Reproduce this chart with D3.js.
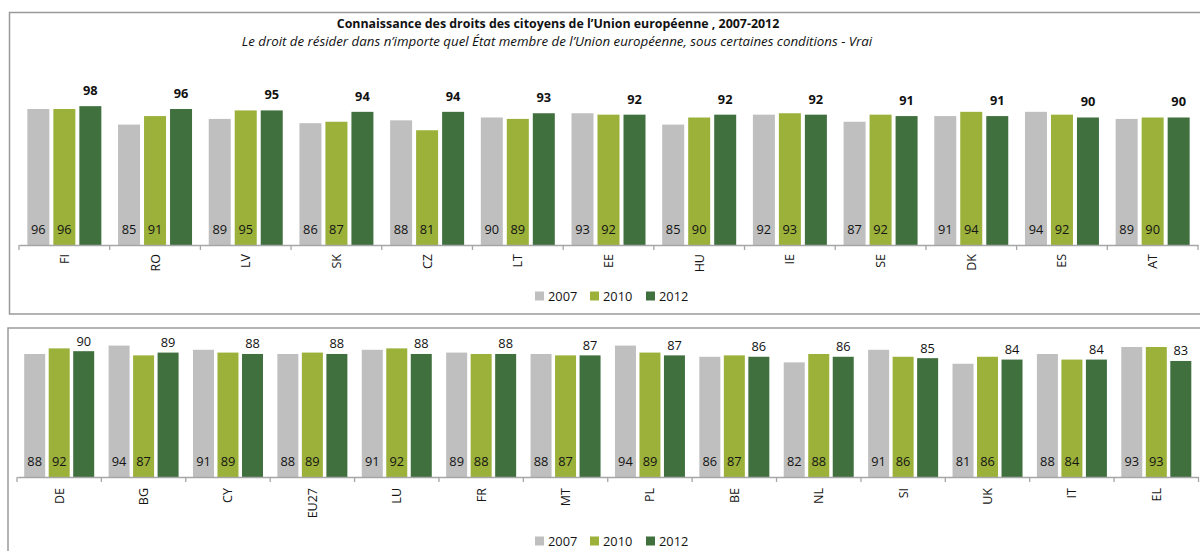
<!DOCTYPE html>
<html><head><meta charset="utf-8">
<script src="https://cdn.jsdelivr.net/npm/d3@7"></script>
<style>
body{margin:0;background:#fff;}
svg{display:block;font-family:"Open Sans",sans-serif;}
</style></head>
<body><svg id="c" width="1200" height="551"></svg>
<script>
const years = ["2007","2010","2012"];
const topCats = ["FI","RO","LV","SK","CZ","LT","EE","HU","IE","SE","DK","ES","AT"];
const top2007 = [96,85,89,86,88,90,93,85,92,87,91,94,89];
const top2010 = [96,91,95,87,81,89,92,90,93,92,94,92,90];
const top2012 = [98,96,95,94,94,93,92,92,92,91,91,90,90];
const botCats = ["DE","BG","CY","EU27","LU","FR","MT","PL","BE","NL","SI","UK","IT","EL"];
const bot2007 = [88,94,91,88,91,89,88,94,86,82,91,81,88,93];
const bot2010 = [92,87,89,89,92,88,87,89,87,88,86,86,84,93];
const bot2012 = [90,89,88,88,88,88,87,87,86,86,85,84,84,83];
const title = "Connaissance des droits des citoyens de l\u2019Union europ\u00e9enne , 2007-2012";
const subtitle = "Le droit de r\u00e9sider dans n\u2019importe quel \u00c9tat membre de l\u2019Union europ\u00e9enne, sous certaines conditions - Vrai";

const colors = {"2007":"#bfbfbf","2010":"#9bb13a","2012":"#41703f"};
const svg = d3.select("#c");

// panel borders
svg.append("rect").attr("x",9.5).attr("y",12.5).attr("width",1200).attr("height",301.5)
  .attr("fill","none").attr("stroke","#9a9a9a").attr("stroke-width",1.5);
svg.append("rect").attr("x",8).attr("y",328).attr("width",1200).attr("height",240)
  .attr("fill","none").attr("stroke","#9a9a9a").attr("stroke-width",1.5);

svg.append("text").attr("x",558).attr("y",28).attr("text-anchor","middle")
  .attr("font-weight","bold").attr("font-size",12.4).attr("fill","#111").text(title);
svg.append("text").attr("x",557).attr("y",45.5).attr("text-anchor","middle")
  .attr("font-style","italic").attr("font-size",13.3).attr("fill","#111").text(subtitle);

function panel(cfg){
  const data = cfg.cats.map((c,i)=>({cat:c, vals:{"2007":cfg.v[0][i],"2010":cfg.v[1][i],"2012":cfg.v[2][i]}}));
  const x0 = d3.scaleBand().domain(cfg.cats).range([cfg.x0,cfg.x1]);
  const bw = x0.bandwidth();
  const x1 = d3.scaleBand().domain(years).range([(bw-cfg.gw)/2,(bw+cfg.gw)/2]).paddingInner(cfg.pi);
  const y = d3.scaleLinear().domain([0,100]).range([cfg.base, cfg.base-cfg.h100]);
  const g = svg.append("g");
  const grp = g.selectAll("g.cat").data(data).join("g").attr("transform",d=>`translate(${x0(d.cat)},0)`);
  grp.selectAll("rect").data(d=>years.map(yr=>({yr,v:d.vals[yr]}))).join("rect")
    .attr("x",d=>x1(d.yr)).attr("width",x1.bandwidth())
    .attr("y",d=>y(d.v)).attr("height",d=>y(0)-y(d.v)).attr("fill",d=>colors[d.yr]);
  // inside labels
  grp.selectAll("text.in").data(d=>["2007","2010"].map(yr=>({yr,v:d.vals[yr]}))).join("text")
    .attr("class","in").attr("x",d=>x1(d.yr)+x1.bandwidth()/2).attr("y",cfg.inY)
    .attr("text-anchor","middle").attr("font-size",12.8).attr("fill","#141414").text(d=>d.v);
  // top labels
  grp.append("text").attr("x",x1("2012")+x1.bandwidth()/2).attr("y",d=>y(d.vals["2012"])-cfg.topOff)
    .attr("text-anchor","middle").attr("font-size",12.8).attr("font-weight",cfg.bold?"bold":"normal")
    .attr("fill","#111").text(d=>d.vals["2012"]);
  // axis
  const axis = d3.axisBottom(x0).tickSize(0).tickFormat("");
  const ag = g.append("g").attr("transform",`translate(0,${cfg.base})`).call(axis);
  ag.select(".domain").attr("stroke","#a6a6a6").attr("stroke-width",1.3);
  const bounds = cfg.cats.map(c=>x0(c)).concat([cfg.x1]);
  g.selectAll("line.tk").data(bounds).join("line").attr("x1",d=>d).attr("x2",d=>d)
    .attr("y1",cfg.base).attr("y2",cfg.base+5).attr("stroke","#a6a6a6").attr("stroke-width",1.3);
  g.selectAll("text.cl").data(cfg.cats).join("text")
    .attr("transform",d=>`translate(${x0(d)+bw/2},${cfg.base+cfg.labOff}) rotate(-90)`)
    .attr("text-anchor","end").attr("dy","0.36em").attr("font-size",12.5).attr("fill","#141414").text(d=>d);
  // legend
  const lx = [535,590,646];
  const lg = svg.append("g");
  years.forEach((yr,i)=>{
    lg.append("rect").attr("x",lx[i]).attr("y",cfg.legY-4.5).attr("width",9).attr("height",9).attr("fill",colors[yr]);
    lg.append("text").attr("x",lx[i]+13).attr("y",cfg.legY).attr("dy","0.36em").attr("font-size",12.8).attr("fill","#141414").text(yr);
  });
}

panel({cats:topCats, v:[top2007,top2010,top2012], x0:19, x1:1198, gw:74, pi:4/26,
  base:245, h100:141.67, inY:234, topOff:11, bold:true, labOff:9, legY:296});
panel({cats:botCats, v:[bot2007,bot2010,bot2012], x0:17, x1:1198.5, gw:70, pi:0.143,
  base:477, h100:139.8, inY:466, topOff:5.5, bold:false, labOff:11, legY:541});
</script></body></html>
